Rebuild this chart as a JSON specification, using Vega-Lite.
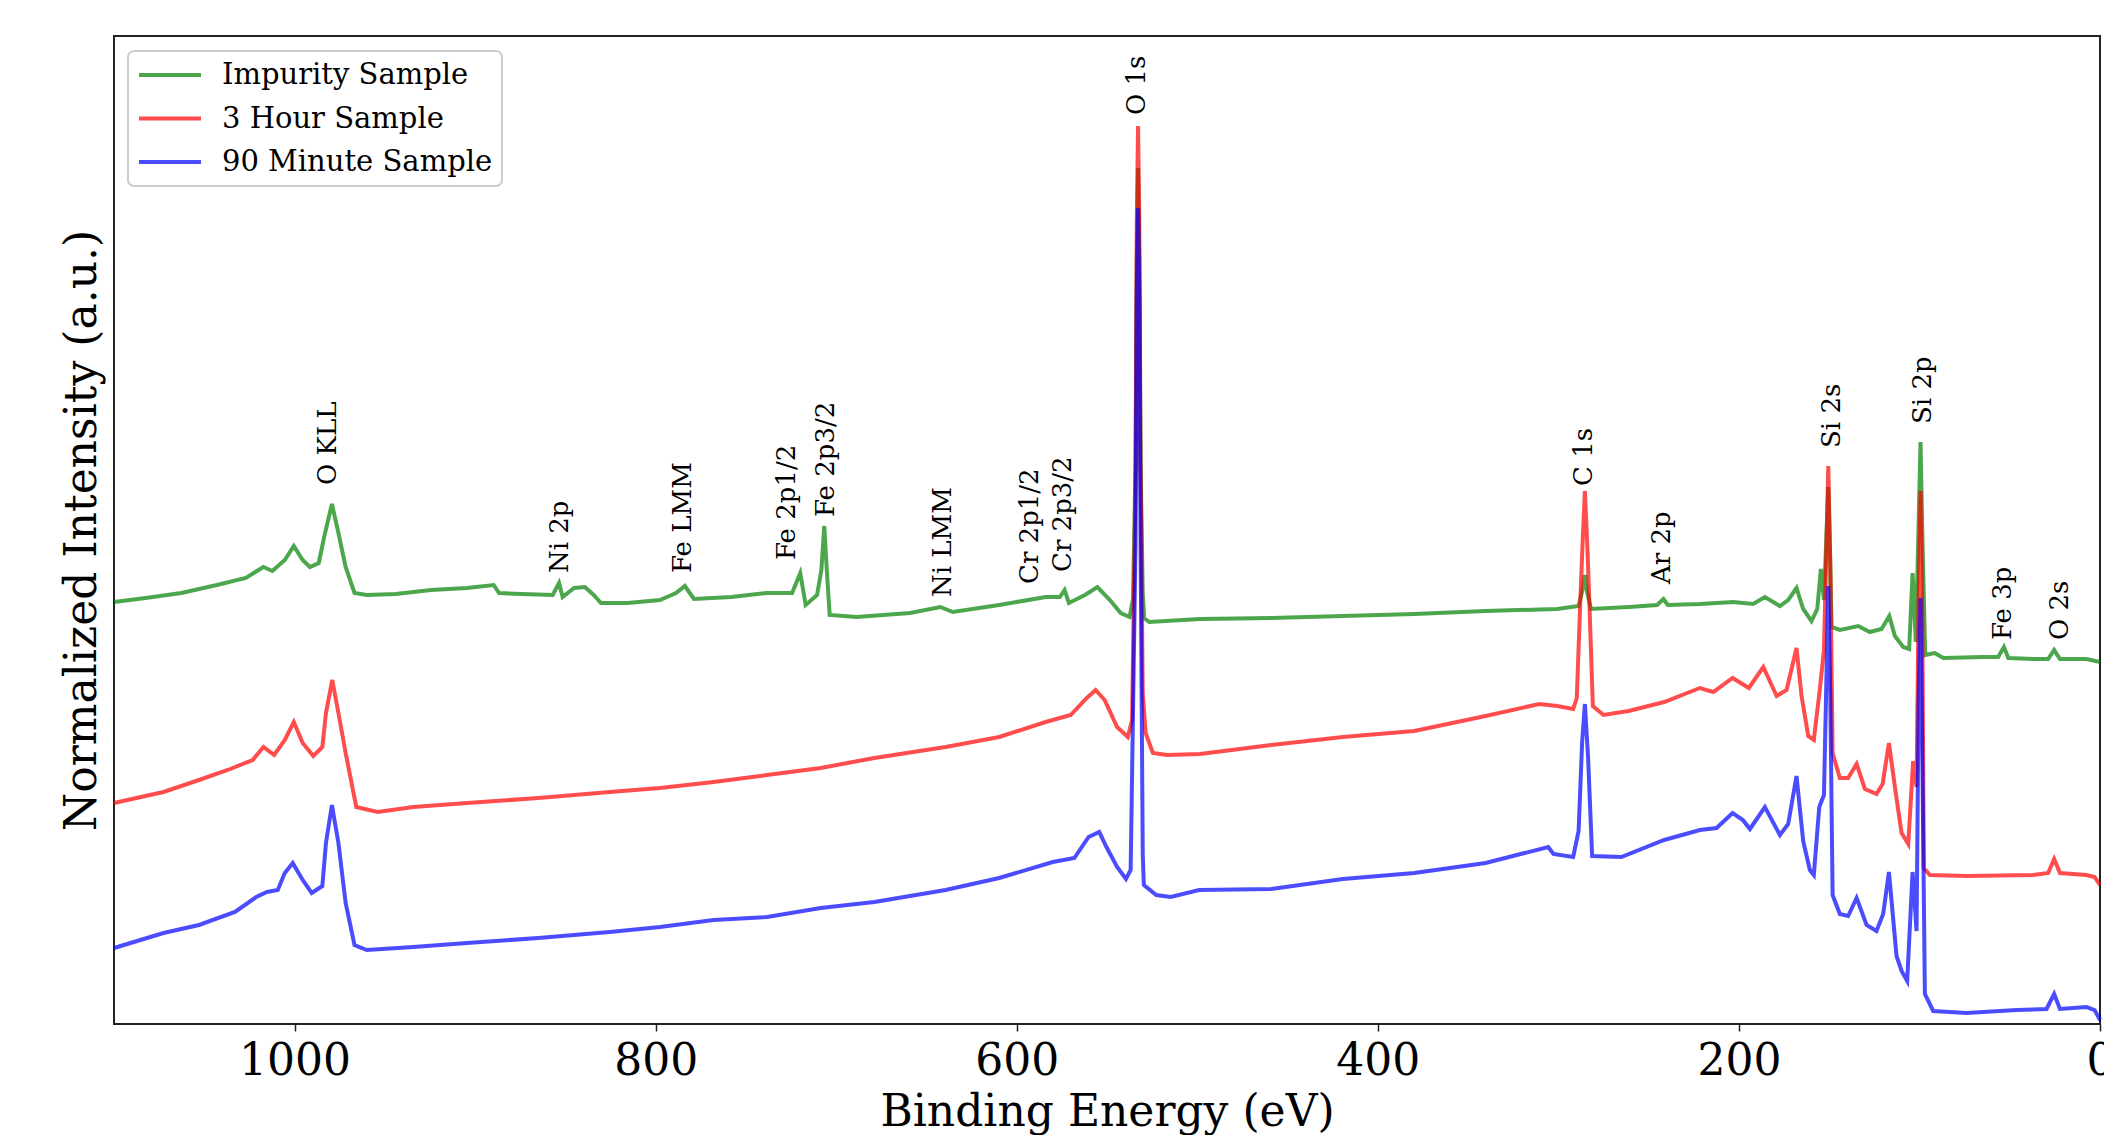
{
"$schema": "https://vega.github.io/schema/vega-lite/v6.json",
"width": 1986, "height": 988,
"autosize": {"type": "none"},
"padding": {"left": 114, "top": 36, "right": 4, "bottom": 111},
"background": "white",
"config": {
  "view": {"stroke": "#222222", "strokeWidth": 2},
  "font": "DejaVu Serif",
  "axis": {"grid": false},
  "legend": {"strokeWidth": 2}
},
"datasets": {
"spectra": [
{"sample":"Impurity Sample","be":1100,"intensity":422},
{"sample":"Impurity Sample","be":1082.5,"intensity":426},
{"sample":"Impurity Sample","be":1062.7,"intensity":431},
{"sample":"Impurity Sample","be":1043,"intensity":439},
{"sample":"Impurity Sample","be":1027,"intensity":446},
{"sample":"Impurity Sample","be":1017.3,"intensity":457},
{"sample":"Impurity Sample","be":1012.3,"intensity":453},
{"sample":"Impurity Sample","be":1005.4,"intensity":464},
{"sample":"Impurity Sample","be":1000.4,"intensity":478},
{"sample":"Impurity Sample","be":995.5,"intensity":464},
{"sample":"Impurity Sample","be":991.5,"intensity":457},
{"sample":"Impurity Sample","be":986.6,"intensity":461},
{"sample":"Impurity Sample","be":983.6,"intensity":487},
{"sample":"Impurity Sample","be":979.3,"intensity":520},
{"sample":"Impurity Sample","be":975.7,"intensity":491},
{"sample":"Impurity Sample","be":971.7,"intensity":457},
{"sample":"Impurity Sample","be":966.8,"intensity":431},
{"sample":"Impurity Sample","be":960,"intensity":429},
{"sample":"Impurity Sample","be":944,"intensity":430},
{"sample":"Impurity Sample","be":924.3,"intensity":434},
{"sample":"Impurity Sample","be":904.5,"intensity":436},
{"sample":"Impurity Sample","be":889.7,"intensity":439},
{"sample":"Impurity Sample","be":886.7,"intensity":431},
{"sample":"Impurity Sample","be":874.8,"intensity":430},
{"sample":"Impurity Sample","be":857,"intensity":429},
{"sample":"Impurity Sample","be":853.5,"intensity":441},
{"sample":"Impurity Sample","be":851.5,"intensity":427},
{"sample":"Impurity Sample","be":845.2,"intensity":436},
{"sample":"Impurity Sample","be":839.2,"intensity":437},
{"sample":"Impurity Sample","be":834.3,"intensity":429},
{"sample":"Impurity Sample","be":830.3,"intensity":421},
{"sample":"Impurity Sample","be":815.5,"intensity":421},
{"sample":"Impurity Sample","be":797.6,"intensity":424},
{"sample":"Impurity Sample","be":788.7,"intensity":431},
{"sample":"Impurity Sample","be":783.8,"intensity":438},
{"sample":"Impurity Sample","be":778.8,"intensity":425},
{"sample":"Impurity Sample","be":758,"intensity":427},
{"sample":"Impurity Sample","be":738.3,"intensity":431},
{"sample":"Impurity Sample","be":724.4,"intensity":431},
{"sample":"Impurity Sample","be":719.9,"intensity":451},
{"sample":"Impurity Sample","be":716.9,"intensity":419},
{"sample":"Impurity Sample","be":710.6,"intensity":429},
{"sample":"Impurity Sample","be":708.2,"intensity":454},
{"sample":"Impurity Sample","be":706.6,"intensity":498},
{"sample":"Impurity Sample","be":705.2,"intensity":454},
{"sample":"Impurity Sample","be":703.6,"intensity":409},
{"sample":"Impurity Sample","be":688.8,"intensity":407},
{"sample":"Impurity Sample","be":659.1,"intensity":411},
{"sample":"Impurity Sample","be":642.3,"intensity":417},
{"sample":"Impurity Sample","be":635.4,"intensity":412},
{"sample":"Impurity Sample","be":609.7,"intensity":419},
{"sample":"Impurity Sample","be":584,"intensity":427},
{"sample":"Impurity Sample","be":576.1,"intensity":427},
{"sample":"Impurity Sample","be":573.5,"intensity":434},
{"sample":"Impurity Sample","be":571.1,"intensity":421},
{"sample":"Impurity Sample","be":562.2,"intensity":429},
{"sample":"Impurity Sample","be":555.3,"intensity":437},
{"sample":"Impurity Sample","be":548.4,"intensity":424},
{"sample":"Impurity Sample","be":542.4,"intensity":411},
{"sample":"Impurity Sample","be":537.5,"intensity":407},
{"sample":"Impurity Sample","be":535.6,"intensity":425},
{"sample":"Impurity Sample","be":534.2,"intensity":560},
{"sample":"Impurity Sample","be":533.5,"intensity":760},
{"sample":"Impurity Sample","be":532.8,"intensity":856},
{"sample":"Impurity Sample","be":532.1,"intensity":760},
{"sample":"Impurity Sample","be":531.4,"intensity":560},
{"sample":"Impurity Sample","be":530.2,"intensity":430},
{"sample":"Impurity Sample","be":529.4,"intensity":406},
{"sample":"Impurity Sample","be":526.6,"intensity":402},
{"sample":"Impurity Sample","be":498.5,"intensity":405},
{"sample":"Impurity Sample","be":459,"intensity":406},
{"sample":"Impurity Sample","be":419.4,"intensity":408},
{"sample":"Impurity Sample","be":379.8,"intensity":410},
{"sample":"Impurity Sample","be":340.3,"intensity":413},
{"sample":"Impurity Sample","be":300.7,"intensity":415},
{"sample":"Impurity Sample","be":288.8,"intensity":418},
{"sample":"Impurity Sample","be":286.5,"intensity":435},
{"sample":"Impurity Sample","be":285.3,"intensity":449},
{"sample":"Impurity Sample","be":284.1,"intensity":432},
{"sample":"Impurity Sample","be":281.9,"intensity":415},
{"sample":"Impurity Sample","be":261.1,"intensity":417},
{"sample":"Impurity Sample","be":245.3,"intensity":419},
{"sample":"Impurity Sample","be":241.8,"intensity":425},
{"sample":"Impurity Sample","be":239.4,"intensity":419},
{"sample":"Impurity Sample","be":221.6,"intensity":420},
{"sample":"Impurity Sample","be":203.1,"intensity":422},
{"sample":"Impurity Sample","be":192.1,"intensity":420},
{"sample":"Impurity Sample","be":185.6,"intensity":427},
{"sample":"Impurity Sample","be":177.3,"intensity":418},
{"sample":"Impurity Sample","be":172.7,"intensity":424},
{"sample":"Impurity Sample","be":168.1,"intensity":436},
{"sample":"Impurity Sample","be":164.4,"intensity":415},
{"sample":"Impurity Sample","be":159.8,"intensity":403},
{"sample":"Impurity Sample","be":156.6,"intensity":415},
{"sample":"Impurity Sample","be":154.6,"intensity":455},
{"sample":"Impurity Sample","be":152.9,"intensity":424},
{"sample":"Impurity Sample","be":151.7,"intensity":480},
{"sample":"Impurity Sample","be":150.5,"intensity":537},
{"sample":"Impurity Sample","be":149.5,"intensity":470},
{"sample":"Impurity Sample","be":148.7,"intensity":397},
{"sample":"Impurity Sample","be":144.1,"intensity":394},
{"sample":"Impurity Sample","be":133.9,"intensity":398},
{"sample":"Impurity Sample","be":127.5,"intensity":392},
{"sample":"Impurity Sample","be":121,"intensity":395},
{"sample":"Impurity Sample","be":116.7,"intensity":408},
{"sample":"Impurity Sample","be":113.6,"intensity":388},
{"sample":"Impurity Sample","be":109,"intensity":377},
{"sample":"Impurity Sample","be":105.7,"intensity":375},
{"sample":"Impurity Sample","be":103.8,"intensity":451},
{"sample":"Impurity Sample","be":102,"intensity":382},
{"sample":"Impurity Sample","be":100.6,"intensity":490},
{"sample":"Impurity Sample","be":99.4,"intensity":582},
{"sample":"Impurity Sample","be":98.3,"intensity":480},
{"sample":"Impurity Sample","be":96.8,"intensity":369},
{"sample":"Impurity Sample","be":91.5,"intensity":371},
{"sample":"Impurity Sample","be":86.8,"intensity":366},
{"sample":"Impurity Sample","be":64.7,"intensity":367},
{"sample":"Impurity Sample","be":56.4,"intensity":367},
{"sample":"Impurity Sample","be":53.2,"intensity":377},
{"sample":"Impurity Sample","be":50.8,"intensity":366},
{"sample":"Impurity Sample","be":37,"intensity":365},
{"sample":"Impurity Sample","be":28.7,"intensity":365},
{"sample":"Impurity Sample","be":25.4,"intensity":374},
{"sample":"Impurity Sample","be":22.2,"intensity":365},
{"sample":"Impurity Sample","be":7.5,"intensity":365},
{"sample":"Impurity Sample","be":0,"intensity":362},
{"sample":"3 Hour Sample","be":1100,"intensity":221},
{"sample":"3 Hour Sample","be":1072.6,"intensity":232},
{"sample":"3 Hour Sample","be":1052.9,"intensity":244},
{"sample":"3 Hour Sample","be":1037,"intensity":254},
{"sample":"3 Hour Sample","be":1023.2,"intensity":264},
{"sample":"3 Hour Sample","be":1017.2,"intensity":277},
{"sample":"3 Hour Sample","be":1011.3,"intensity":269},
{"sample":"3 Hour Sample","be":1005.4,"intensity":284},
{"sample":"3 Hour Sample","be":1000.4,"intensity":302},
{"sample":"3 Hour Sample","be":995.5,"intensity":281},
{"sample":"3 Hour Sample","be":989.6,"intensity":268},
{"sample":"3 Hour Sample","be":984.6,"intensity":277},
{"sample":"3 Hour Sample","be":982.6,"intensity":311},
{"sample":"3 Hour Sample","be":979.1,"intensity":344},
{"sample":"3 Hour Sample","be":975.7,"intensity":311},
{"sample":"3 Hour Sample","be":971.7,"intensity":271},
{"sample":"3 Hour Sample","be":965.8,"intensity":217},
{"sample":"3 Hour Sample","be":954,"intensity":212},
{"sample":"3 Hour Sample","be":934.2,"intensity":217},
{"sample":"3 Hour Sample","be":904.5,"intensity":221},
{"sample":"3 Hour Sample","be":865,"intensity":226},
{"sample":"3 Hour Sample","be":825.4,"intensity":232},
{"sample":"3 Hour Sample","be":797.6,"intensity":236},
{"sample":"3 Hour Sample","be":767.9,"intensity":242},
{"sample":"3 Hour Sample","be":738.3,"intensity":249},
{"sample":"3 Hour Sample","be":708.6,"intensity":256},
{"sample":"3 Hour Sample","be":678.9,"intensity":266},
{"sample":"3 Hour Sample","be":639.4,"intensity":277},
{"sample":"3 Hour Sample","be":609.7,"intensity":287},
{"sample":"3 Hour Sample","be":584,"intensity":302},
{"sample":"3 Hour Sample","be":570.1,"intensity":309},
{"sample":"3 Hour Sample","be":561.2,"intensity":326},
{"sample":"3 Hour Sample","be":556.3,"intensity":334},
{"sample":"3 Hour Sample","be":551.3,"intensity":324},
{"sample":"3 Hour Sample","be":544.4,"intensity":297},
{"sample":"3 Hour Sample","be":538.5,"intensity":287},
{"sample":"3 Hour Sample","be":536.1,"intensity":304},
{"sample":"3 Hour Sample","be":534.2,"intensity":540},
{"sample":"3 Hour Sample","be":533.5,"intensity":800},
{"sample":"3 Hour Sample","be":532.8,"intensity":898},
{"sample":"3 Hour Sample","be":532.1,"intensity":800},
{"sample":"3 Hour Sample","be":531.4,"intensity":560},
{"sample":"3 Hour Sample","be":530.2,"intensity":330},
{"sample":"3 Hour Sample","be":528.6,"intensity":291},
{"sample":"3 Hour Sample","be":524.6,"intensity":271},
{"sample":"3 Hour Sample","be":516.7,"intensity":269},
{"sample":"3 Hour Sample","be":498.5,"intensity":270},
{"sample":"3 Hour Sample","be":459,"intensity":279},
{"sample":"3 Hour Sample","be":419.4,"intensity":287},
{"sample":"3 Hour Sample","be":379.8,"intensity":293},
{"sample":"3 Hour Sample","be":340.3,"intensity":308},
{"sample":"3 Hour Sample","be":310.6,"intensity":320},
{"sample":"3 Hour Sample","be":300.7,"intensity":318},
{"sample":"3 Hour Sample","be":291.8,"intensity":315},
{"sample":"3 Hour Sample","be":289.8,"intensity":326},
{"sample":"3 Hour Sample","be":287.8,"intensity":425},
{"sample":"3 Hour Sample","be":286.6,"intensity":480},
{"sample":"3 Hour Sample","be":285.3,"intensity":533},
{"sample":"3 Hour Sample","be":284,"intensity":480},
{"sample":"3 Hour Sample","be":282.9,"intensity":425},
{"sample":"3 Hour Sample","be":280.9,"intensity":318},
{"sample":"3 Hour Sample","be":275,"intensity":309},
{"sample":"3 Hour Sample","be":261.1,"intensity":313},
{"sample":"3 Hour Sample","be":241.4,"intensity":322},
{"sample":"3 Hour Sample","be":221.6,"intensity":336},
{"sample":"3 Hour Sample","be":214.2,"intensity":332},
{"sample":"3 Hour Sample","be":203.5,"intensity":346},
{"sample":"3 Hour Sample","be":194.5,"intensity":336},
{"sample":"3 Hour Sample","be":186.5,"intensity":357},
{"sample":"3 Hour Sample","be":179.1,"intensity":328},
{"sample":"3 Hour Sample","be":173.6,"intensity":334},
{"sample":"3 Hour Sample","be":168.1,"intensity":376},
{"sample":"3 Hour Sample","be":165.3,"intensity":328},
{"sample":"3 Hour Sample","be":161.6,"intensity":288},
{"sample":"3 Hour Sample","be":158.5,"intensity":284},
{"sample":"3 Hour Sample","be":155.1,"intensity":336},
{"sample":"3 Hour Sample","be":152.9,"intensity":374},
{"sample":"3 Hour Sample","be":151.6,"intensity":470},
{"sample":"3 Hour Sample","be":150.5,"intensity":558},
{"sample":"3 Hour Sample","be":149.4,"intensity":460},
{"sample":"3 Hour Sample","be":148.1,"intensity":271},
{"sample":"3 Hour Sample","be":144.1,"intensity":246},
{"sample":"3 Hour Sample","be":139.5,"intensity":246},
{"sample":"3 Hour Sample","be":134.8,"intensity":260},
{"sample":"3 Hour Sample","be":130.2,"intensity":235},
{"sample":"3 Hour Sample","be":123.8,"intensity":230},
{"sample":"3 Hour Sample","be":120.4,"intensity":240},
{"sample":"3 Hour Sample","be":116.9,"intensity":281},
{"sample":"3 Hour Sample","be":113.6,"intensity":237},
{"sample":"3 Hour Sample","be":109.9,"intensity":191},
{"sample":"3 Hour Sample","be":106.2,"intensity":180},
{"sample":"3 Hour Sample","be":103.5,"intensity":263},
{"sample":"3 Hour Sample","be":101.6,"intensity":237},
{"sample":"3 Hour Sample","be":100.5,"intensity":420},
{"sample":"3 Hour Sample","be":99.4,"intensity":533},
{"sample":"3 Hour Sample","be":98.4,"intensity":400},
{"sample":"3 Hour Sample","be":97.6,"intensity":156},
{"sample":"3 Hour Sample","be":94.2,"intensity":149},
{"sample":"3 Hour Sample","be":73.9,"intensity":148},
{"sample":"3 Hour Sample","be":37,"intensity":149},
{"sample":"3 Hour Sample","be":28.7,"intensity":151},
{"sample":"3 Hour Sample","be":25.4,"intensity":165},
{"sample":"3 Hour Sample","be":22.2,"intensity":151},
{"sample":"3 Hour Sample","be":7.5,"intensity":149},
{"sample":"3 Hour Sample","be":3,"intensity":147},
{"sample":"3 Hour Sample","be":0,"intensity":139},
{"sample":"90 Minute Sample","be":1100,"intensity":76},
{"sample":"90 Minute Sample","be":1072.6,"intensity":91},
{"sample":"90 Minute Sample","be":1052.9,"intensity":99},
{"sample":"90 Minute Sample","be":1033,"intensity":112},
{"sample":"90 Minute Sample","be":1021.2,"intensity":127},
{"sample":"90 Minute Sample","be":1015.3,"intensity":132},
{"sample":"90 Minute Sample","be":1009.3,"intensity":134},
{"sample":"90 Minute Sample","be":1005.4,"intensity":151},
{"sample":"90 Minute Sample","be":1001,"intensity":161},
{"sample":"90 Minute Sample","be":995.5,"intensity":144},
{"sample":"90 Minute Sample","be":990.5,"intensity":131},
{"sample":"90 Minute Sample","be":984.6,"intensity":138},
{"sample":"90 Minute Sample","be":982.6,"intensity":181},
{"sample":"90 Minute Sample","be":979.3,"intensity":219},
{"sample":"90 Minute Sample","be":975.7,"intensity":181},
{"sample":"90 Minute Sample","be":971.7,"intensity":121},
{"sample":"90 Minute Sample","be":966.8,"intensity":79},
{"sample":"90 Minute Sample","be":960,"intensity":74},
{"sample":"90 Minute Sample","be":934.2,"intensity":77},
{"sample":"90 Minute Sample","be":904.5,"intensity":81},
{"sample":"90 Minute Sample","be":865,"intensity":86},
{"sample":"90 Minute Sample","be":825.4,"intensity":92},
{"sample":"90 Minute Sample","be":797.6,"intensity":97},
{"sample":"90 Minute Sample","be":767.9,"intensity":104},
{"sample":"90 Minute Sample","be":738.3,"intensity":107},
{"sample":"90 Minute Sample","be":708.6,"intensity":116},
{"sample":"90 Minute Sample","be":678.9,"intensity":122},
{"sample":"90 Minute Sample","be":639.4,"intensity":134},
{"sample":"90 Minute Sample","be":609.7,"intensity":146},
{"sample":"90 Minute Sample","be":580,"intensity":162},
{"sample":"90 Minute Sample","be":568.1,"intensity":166},
{"sample":"90 Minute Sample","be":560.2,"intensity":187},
{"sample":"90 Minute Sample","be":554.3,"intensity":192},
{"sample":"90 Minute Sample","be":550.3,"intensity":177},
{"sample":"90 Minute Sample","be":544.4,"intensity":157},
{"sample":"90 Minute Sample","be":539.5,"intensity":145},
{"sample":"90 Minute Sample","be":536.9,"intensity":154},
{"sample":"90 Minute Sample","be":534.2,"intensity":480},
{"sample":"90 Minute Sample","be":533.5,"intensity":730},
{"sample":"90 Minute Sample","be":532.8,"intensity":816},
{"sample":"90 Minute Sample","be":532.1,"intensity":730},
{"sample":"90 Minute Sample","be":531.4,"intensity":480},
{"sample":"90 Minute Sample","be":530.2,"intensity":170},
{"sample":"90 Minute Sample","be":529.6,"intensity":139},
{"sample":"90 Minute Sample","be":522.7,"intensity":129},
{"sample":"90 Minute Sample","be":514.7,"intensity":127},
{"sample":"90 Minute Sample","be":499,"intensity":134},
{"sample":"90 Minute Sample","be":459,"intensity":135},
{"sample":"90 Minute Sample","be":419.4,"intensity":145},
{"sample":"90 Minute Sample","be":379.8,"intensity":151},
{"sample":"90 Minute Sample","be":340.3,"intensity":161},
{"sample":"90 Minute Sample","be":305.6,"intensity":177},
{"sample":"90 Minute Sample","be":302.7,"intensity":170},
{"sample":"90 Minute Sample","be":291.8,"intensity":167},
{"sample":"90 Minute Sample","be":288.8,"intensity":193},
{"sample":"90 Minute Sample","be":286.8,"intensity":283},
{"sample":"90 Minute Sample","be":285.3,"intensity":320},
{"sample":"90 Minute Sample","be":283.5,"intensity":265},
{"sample":"90 Minute Sample","be":281.3,"intensity":168},
{"sample":"90 Minute Sample","be":265.1,"intensity":167},
{"sample":"90 Minute Sample","be":241.4,"intensity":184},
{"sample":"90 Minute Sample","be":221.6,"intensity":194},
{"sample":"90 Minute Sample","be":212.4,"intensity":196},
{"sample":"90 Minute Sample","be":203.5,"intensity":211},
{"sample":"90 Minute Sample","be":197.8,"intensity":204},
{"sample":"90 Minute Sample","be":193.9,"intensity":195},
{"sample":"90 Minute Sample","be":185.6,"intensity":217},
{"sample":"90 Minute Sample","be":177.3,"intensity":189},
{"sample":"90 Minute Sample","be":172.7,"intensity":200},
{"sample":"90 Minute Sample","be":168.1,"intensity":248},
{"sample":"90 Minute Sample","be":164.4,"intensity":183},
{"sample":"90 Minute Sample","be":160.7,"intensity":154},
{"sample":"90 Minute Sample","be":158.5,"intensity":149},
{"sample":"90 Minute Sample","be":155.5,"intensity":217},
{"sample":"90 Minute Sample","be":152.9,"intensity":229},
{"sample":"90 Minute Sample","be":151.6,"intensity":340},
{"sample":"90 Minute Sample","be":150.5,"intensity":438},
{"sample":"90 Minute Sample","be":149.4,"intensity":330},
{"sample":"90 Minute Sample","be":148.1,"intensity":129},
{"sample":"90 Minute Sample","be":144.1,"intensity":110},
{"sample":"90 Minute Sample","be":139.5,"intensity":108},
{"sample":"90 Minute Sample","be":134.8,"intensity":126},
{"sample":"90 Minute Sample","be":129.3,"intensity":99},
{"sample":"90 Minute Sample","be":123.8,"intensity":93},
{"sample":"90 Minute Sample","be":120.1,"intensity":110},
{"sample":"90 Minute Sample","be":116.9,"intensity":152},
{"sample":"90 Minute Sample","be":112.7,"intensity":68},
{"sample":"90 Minute Sample","be":109.9,"intensity":53},
{"sample":"90 Minute Sample","be":106.8,"intensity":43},
{"sample":"90 Minute Sample","be":103.8,"intensity":152},
{"sample":"90 Minute Sample","be":101.6,"intensity":93},
{"sample":"90 Minute Sample","be":100.5,"intensity":320},
{"sample":"90 Minute Sample","be":99.4,"intensity":426},
{"sample":"90 Minute Sample","be":98.3,"intensity":250},
{"sample":"90 Minute Sample","be":97,"intensity":30},
{"sample":"90 Minute Sample","be":92.4,"intensity":13},
{"sample":"90 Minute Sample","be":73.9,"intensity":11},
{"sample":"90 Minute Sample","be":46.2,"intensity":14},
{"sample":"90 Minute Sample","be":29.6,"intensity":15},
{"sample":"90 Minute Sample","be":25.4,"intensity":30},
{"sample":"90 Minute Sample","be":22.2,"intensity":15},
{"sample":"90 Minute Sample","be":7.5,"intensity":17},
{"sample":"90 Minute Sample","be":3,"intensity":14},
{"sample":"90 Minute Sample","be":0,"intensity":4}
],
"labels": [
{"label":"O KLL","be":981.2,"intensity":539},
{"label":"Ni 2p","be":853.2,"intensity":451},
{"label":"Fe LMM","be":784.9,"intensity":451},
{"label":"Fe 2p1/2","be":727,"intensity":464},
{"label":"Fe 2p3/2","be":705.7,"intensity":507},
{"label":"Ni LMM","be":640.8,"intensity":427},
{"label":"Cr 2p1/2","be":592.7,"intensity":440},
{"label":"Cr 2p3/2","be":574.3,"intensity":452},
{"label":"O 1s","be":533.2,"intensity":909},
{"label":"C 1s","be":285.8,"intensity":538},
{"label":"Ar 2p","be":242.6,"intensity":440},
{"label":"Si 2s","be":148.6,"intensity":576},
{"label":"Si 2p","be":97.9,"intensity":600},
{"label":"Fe 3p","be":53.6,"intensity":384},
{"label":"O 2s","be":22.2,"intensity":384}
]
},
"layer": [
{
"data": {"name": "spectra"},
"mark": {"type": "line", "strokeWidth": 4, "opacity": 0.7},
"encoding": {
  "x": {"field": "be", "type": "quantitative",
        "scale": {"domain": [0, 1100], "reverse": true, "nice": false, "zero": false},
        "title": "Binding Energy (eV)",
        "axis": {"values": [0, 200, 400, 600, 800, 1000], "format": "d", "domain": false, "grid": false,
                 "tickSize": 7, "tickWidth": 1.5, "tickColor": "#222222",
                 "labelFont": "DejaVu Serif", "labelFontSize": 44, "labelColor": "black",
                 "labelPadding": 8, "labelFlush": false, "labelOverlap": false,
                 "titleFont": "DejaVu Serif", "titleFontSize": 44, "titleFontWeight": "normal",
                 "titleColor": "black", "titlePadding": 7}},
  "y": {"field": "intensity", "type": "quantitative",
        "scale": {"domain": [0, 988], "nice": false},
        "title": "Normalized Intensity (a.u.)",
        "axis": {"domain": false, "ticks": false, "labels": false, "grid": false,
                 "titleFont": "DejaVu Serif", "titleFontSize": 44, "titleFontWeight": "normal",
                 "titleColor": "black", "titlePadding": 10}},
  "color": {"field": "sample", "type": "nominal",
            "scale": {"domain": ["Impurity Sample", "3 Hour Sample", "90 Minute Sample"],
                      "range": ["#008000", "#ff0000", "#0000ff"]},
            "legend": {"title": null, "orient": "none", "legendX": 14, "legendY": 15,
                       "symbolType": "stroke", "symbolSize": 3844, "symbolStrokeWidth": 4,
                       "symbolOpacity": 0.7, "labelFont": "DejaVu Serif", "labelFontSize": 29,
                       "labelColor": "black", "labelOffset": 19, "labelLimit": 500,
                       "padding": 9, "rowPadding": 13.5, "clipHeight": 30,
                       "strokeColor": "#cccccc", "fillColor": "white", "cornerRadius": 6}}
}
},
{
"data": {"name": "labels"},
"mark": {"type": "text", "angle": 270, "align": "left", "baseline": "middle",
         "font": "DejaVu Serif", "fontSize": 26, "color": "black"},
"encoding": {
  "x": {"field": "be", "type": "quantitative"},
  "y": {"field": "intensity", "type": "quantitative"},
  "text": {"field": "label", "type": "nominal"}
}
}
]
}
